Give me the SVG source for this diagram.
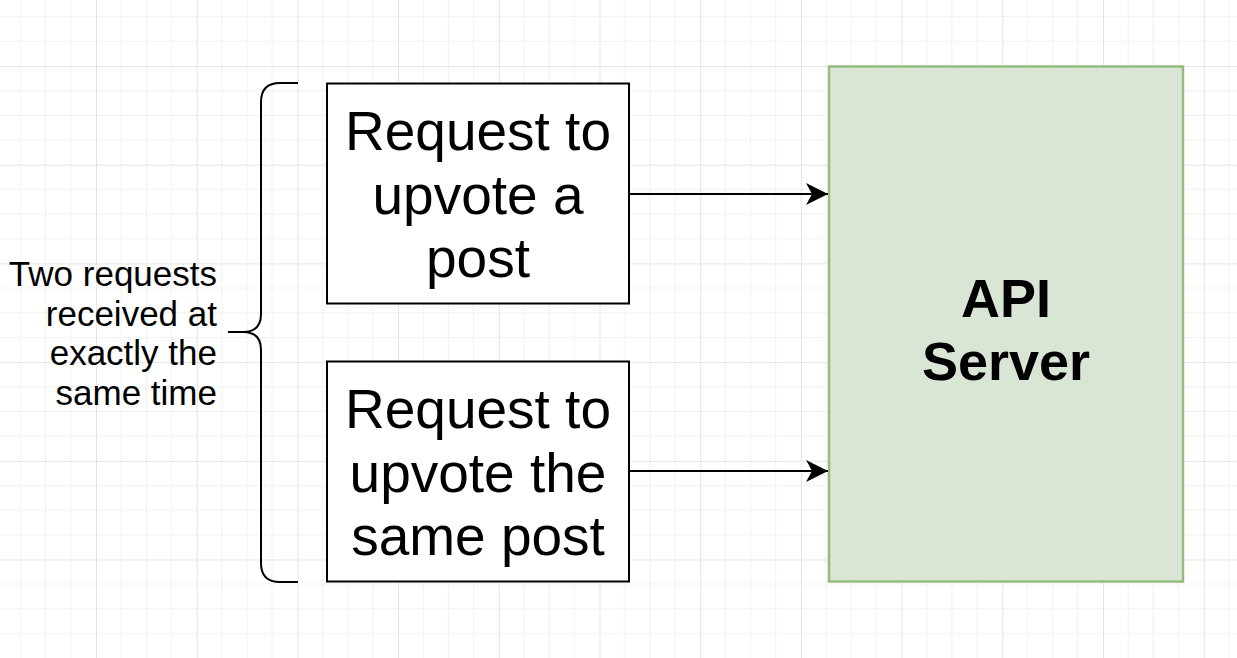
<svg xmlns="http://www.w3.org/2000/svg" width="1237" height="658" viewBox="0 0 1237 658">
  <defs>
    <pattern id="grid" patternUnits="userSpaceOnUse" x="96" y="66" width="100.7" height="98.7">
      <g stroke="#f1f1f1" stroke-width="1">
        <line x1="25.17" y1="0" x2="25.17" y2="98.7"/>
        <line x1="50.35" y1="0" x2="50.35" y2="98.7"/>
        <line x1="75.52" y1="0" x2="75.52" y2="98.7"/>
        <line x1="0" y1="24.67" x2="100.7" y2="24.67"/>
        <line x1="0" y1="49.35" x2="100.7" y2="49.35"/>
        <line x1="0" y1="74.02" x2="100.7" y2="74.02"/>
      </g>
      <g stroke="#e4e4e4" stroke-width="1">
        <line x1="0.5" y1="0" x2="0.5" y2="98.7"/>
        <line x1="0" y1="0.5" x2="100.7" y2="0.5"/>
      </g>
    </pattern>
    <marker id="arrow" viewBox="0 0 22 22" refX="22" refY="11" markerWidth="22" markerHeight="22" markerUnits="userSpaceOnUse" orient="auto">
      <path d="M0,0 L22,11 L0,22 L6,11 Z" fill="#000"/>
    </marker>
    <style>
      .box { fill: #ffffff; stroke: #000000; stroke-width: 2; }
      .server { fill: #dae6d5; stroke: #96bb80; stroke-width: 2.5; }
      .big { font-family: "Liberation Sans", Arial, sans-serif; font-size: 55px; fill: #000; text-anchor: middle; }
      .bold { font-family: "Liberation Sans", Arial, sans-serif; font-size: 54px; font-weight: bold; fill: #000; text-anchor: middle; }
      .note { font-family: "Liberation Sans", Arial, sans-serif; font-size: 35px; fill: #000; text-anchor: end; }
      .conn { fill: none; stroke: #000; stroke-width: 2; }
    </style>
  </defs>

  <rect x="0" y="0" width="1237" height="658" fill="#ffffff"/>
  <rect x="0" y="0" width="1237" height="658" fill="url(#grid)"/>

  <g id="brace-label">
    <path class="conn" d="M298,83 H280 Q261,83 261,102 V314 Q261,332 243,332 H228 M243,332 Q261,332 261,350 V563 Q261,582 280,582 H298"/>
    <text class="note" x="217" y="286">Two requests</text>
    <text class="note" x="217" y="325.5">received at</text>
    <text class="note" x="217" y="365">exactly the</text>
    <text class="note" x="217" y="404.5">same time</text>
  </g>

  <g id="request1">
    <rect class="box" x="327" y="83.5" width="302" height="220"/>
    <text class="big" x="478" y="150">Request to</text>
    <text class="big" x="478" y="214">upvote a</text>
    <text class="big" x="478" y="277">post</text>
  </g>

  <g id="request2">
    <rect class="box" x="327" y="361.5" width="302" height="220"/>
    <text class="big" x="478" y="428">Request to</text>
    <text class="big" x="478" y="492">upvote the</text>
    <text class="big" x="478" y="555">same post</text>
  </g>

  <g id="api-server">
    <rect class="server" x="829" y="66.5" width="354" height="515"/>
    <text class="bold" x="1006" y="317">API</text>
    <text class="bold" x="1006" y="380">Server</text>
  </g>

  <g id="connectors">
    <line class="conn" x1="629" y1="194" x2="828" y2="194" marker-end="url(#arrow)"/>
    <line class="conn" x1="629" y1="471" x2="828" y2="471" marker-end="url(#arrow)"/>
  </g>
</svg>
